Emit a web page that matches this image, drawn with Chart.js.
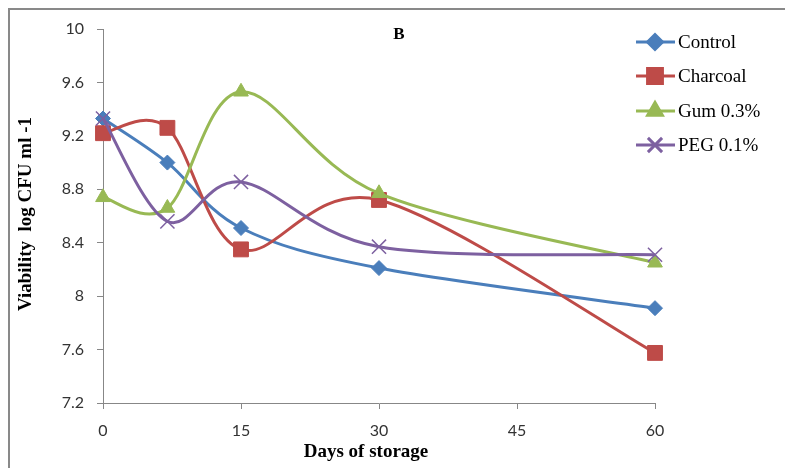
<!DOCTYPE html>
<html>
<head>
<meta charset="utf-8">
<script src="https://cdn.jsdelivr.net/npm/chart.js@4"></script>
<style>
  html, body { margin: 0; padding: 0; background: #fff; }
  #box { width: 785px; height: 468px; }
</style>
</head>
<body>
<div id="box"><canvas id="grafico" width="785" height="468"></canvas></div>
<script>
// dados
const dias = [0, 7, 15, 30, 60];
const controle = [9.33, 9.0, 8.51, 8.21, 7.91];
const carvao = [9.22, 9.26, 8.35, 8.72, 7.575];
const goma = [8.74, 8.66, 9.53, 8.77, 8.25];
const peg = [9.33, 8.56, 8.855, 8.37, 8.31];
const ticksX = [0, 15, 30, 45, 60];

function pontos(valores) {
  return dias.map((d, i) => ({ x: d, y: valores[i] }));
}

function serie(label, valores, cor, estilo, raio, ordem, bw) {
  return {
    label: label,
    data: pontos(valores),
    borderColor: cor,
    backgroundColor: cor,
    borderWidth: 3,
    pointStyle: estilo,
    pointRadius: raio,
    pointHoverRadius: raio,
    pointBorderWidth: bw,
    pointBorderColor: cor,
    pointBackgroundColor: cor,
    tension: 0.5,
    clip: false,
    order: ordem
  };
}

// suavizacao no estilo do Excel: pontos de controle a 1/6 da diferenca entre vizinhos
const suaviza = {
  id: 'suaviza',
  beforeDatasetsDraw(chart) {
    chart.data.datasets.forEach((ds, k) => {
      const meta = chart.getDatasetMeta(k);
      meta.dataset.updateControlPoints(chart.chartArea, 'x');
      const pts = meta.data;
      pts.forEach((p, i) => {
        const ant = pts[i - 1] || p;
        const prox = pts[i + 1] || p;
        const dx = (prox.x - ant.x) / 6;
        const dy = (prox.y - ant.y) / 6;
        p.cp1x = p.x - dx;
        p.cp1y = p.y - dy;
        p.cp2x = p.x + dx;
        p.cp2y = p.y + dy;
      });
    });
  }
};

// moldura, titulos e legenda desenhados por cima
const extras = {
  id: 'extras',
  beforeDraw(chart) {
    const ctx = chart.ctx;
    ctx.save();
    ctx.strokeStyle = '#898989';
    ctx.lineWidth = 2;
    ctx.strokeRect(9, 9, 900, 600);
    ctx.restore();
  },
  afterDraw(chart) {
    const ctx = chart.ctx;
    ctx.save();
    ctx.fillStyle = '#000';
    ctx.textAlign = 'center';
    ctx.textBaseline = 'middle';
    ctx.font = 'bold 17px "Liberation Serif"';
    ctx.fillText('B', 399, 35);

    ctx.font = 'bold 19px "Liberation Serif"';
    ctx.fillText('Days of storage', 366, 452);

    ctx.save();
    ctx.translate(26, 214);
    ctx.rotate(-Math.PI / 2);
    ctx.fillText('Viability  log CFU ml -1', 0, 0);
    ctx.restore();

    // legenda
    const linhas = [42, 76, 111, 145];
    ctx.font = '19px "Liberation Serif"';
    ctx.textAlign = 'left';
    chart.data.datasets.forEach((ds, i) => {
      const y = linhas[i];
      ctx.strokeStyle = ds.borderColor;
      ctx.lineWidth = 3;
      ctx.beginPath();
      ctx.moveTo(636, y);
      ctx.lineTo(675, y);
      ctx.stroke();
      ctx.fillStyle = ds.borderColor;
      ctx.strokeStyle = ds.borderColor;
      Chart.helpers.drawPoint(ctx, {
        pointStyle: ds.pointStyle,
        radius: ds.pointRadius,
        borderWidth: ds.pointBorderWidth,
        rotation: 0
      }, 655, y);
      ctx.fillStyle = '#000';
      ctx.fillText(ds.label, 678, y + 1);
    });
    ctx.restore();
  }
};

const grafico = new Chart(document.getElementById('grafico'), {
  type: 'line',
  data: {
    datasets: [
      serie('Control', controle, '#4A7EBB', 'rectRot', 7.5, 4, 1),
      serie('Charcoal', carvao, '#BE4B48', 'rect', 10.5, 3, 1),
      serie('Gum 0.3%', goma, '#98B954', 'triangle', 8.5, 2, 1),
      serie('PEG 0.1%', peg, '#7D60A0', 'crossRot', 10, 1, 1.5)
    ]
  },
  options: {
    responsive: false,
    animation: false,
    layout: { padding: { top: 29, right: 130, left: 0, bottom: 0 } },
    plugins: {
      legend: { display: false },
      tooltip: { enabled: false }
    },
    scales: {
      x: {
        type: 'linear',
        min: 0,
        max: 60,
        afterFit: (s) => { s.height = 65; },
        afterBuildTicks: (s) => { s.ticks = ticksX.map(v => ({ value: v })); },
        border: { color: '#878787', width: 1 },
        grid: { drawOnChartArea: false, tickLength: 6, color: '#878787' },
        ticks: {
          padding: 12,
          color: '#333',
          font: { family: 'Lato', size: 16 }
        }
      },
      y: {
        min: 7.2,
        max: 10,
        afterFit: (s) => { s.width = 103; },
        border: { color: '#878787', width: 1 },
        grid: { drawOnChartArea: false, tickLength: 6, color: '#878787' },
        ticks: {
          stepSize: 0.4,
          padding: 13,
          color: '#333',
          font: { family: 'Lato', size: 16 },
          callback: (v) => Math.round(v * 10) / 10
        }
      }
    }
  },
  plugins: [suaviza, extras]
});
</script>
</body>
</html>
